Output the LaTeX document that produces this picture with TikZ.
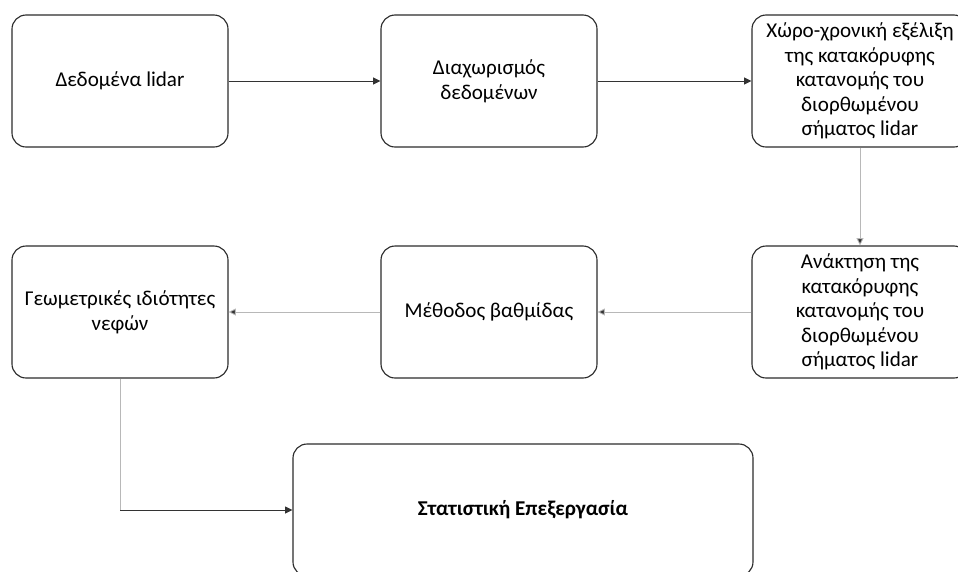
\documentclass[tikz,border=0pt]{standalone}
\usepackage{fontspec}
\setmainfont{Carlito}
\usepackage{xcolor}
\usepackage{tikz}
\usetikzlibrary{arrows.meta,calc,positioning}
\definecolor{flowDark}{HTML}{333333}
\definecolor{flowLight}{HTML}{B8B8B8}
\definecolor{boxEdge}{HTML}{2B2B2B}
\tikzset{
  flow/.style={-{Triangle[length=1.8mm,width=1.7mm]}, line width=0.6pt, draw=flowDark},
  flow light/.style={flow, draw=flowLight, arrows={-{Triangle[length=1.8mm,width=1.7mm,fill=flowDark]}}},
  proc box/.style={draw=boxEdge, line width=0.8pt, rounded corners=10pt,
    align=center, minimum width=5.4cm, minimum height=3.3cm,
    inner sep=2pt, font=\fontsize{15}{17.5}\selectfont},
  wide box/.style={proc box, minimum width=11.5cm,
    font=\fontsize{15}{17.5}\selectfont\bfseries}
}
\begin{document}
\begin{tikzpicture}
  \useasboundingbox (0,0) rectangle (23.95,-14.275);

  \node[proc box] (lidar) at (3.0,-2.025) {Δεδομένα lidar};
  \node[proc box] (split) at (12.225,-2.025) {Διαχωρισμός\\δεδομένων};
  \node[proc box] (evol) at (21.5,-2.025) {Χώρο-χρονική εξέλιξη\\της κατακόρυφης\\κατανομής του\\διορθωμένου\\σήματος lidar};

  \node[proc box] (retr) at (21.5,-7.8) {Ανάκτηση της\\κατακόρυφης\\κατανομής του\\διορθωμένου\\σήματος lidar};
  \node[proc box] (grad) at (12.225,-7.8) {Μέθοδος βαθμίδας};
  \node[proc box] (geom) at (3.0,-7.8) {Γεωμετρικές ιδιότητες\\νεφών};

  \node[wide box] (stats) at (13.075,-12.75) {Στατιστική Επεξεργασία};

  \draw[flow] (lidar) -- (split);
  \draw[flow] (split) -- (evol);
  \draw[flow light] (evol) -- (retr);
  \draw[flow light] (retr) -- (grad);
  \draw[flow light] (grad) -- (geom);
  \coordinate (corner) at (geom.south |- stats.west);
  \draw[draw=flowLight, line width=0.6pt] (geom.south) -- (corner);
  \draw[flow] (corner) -- (stats.west);
\end{tikzpicture}
\end{document}
